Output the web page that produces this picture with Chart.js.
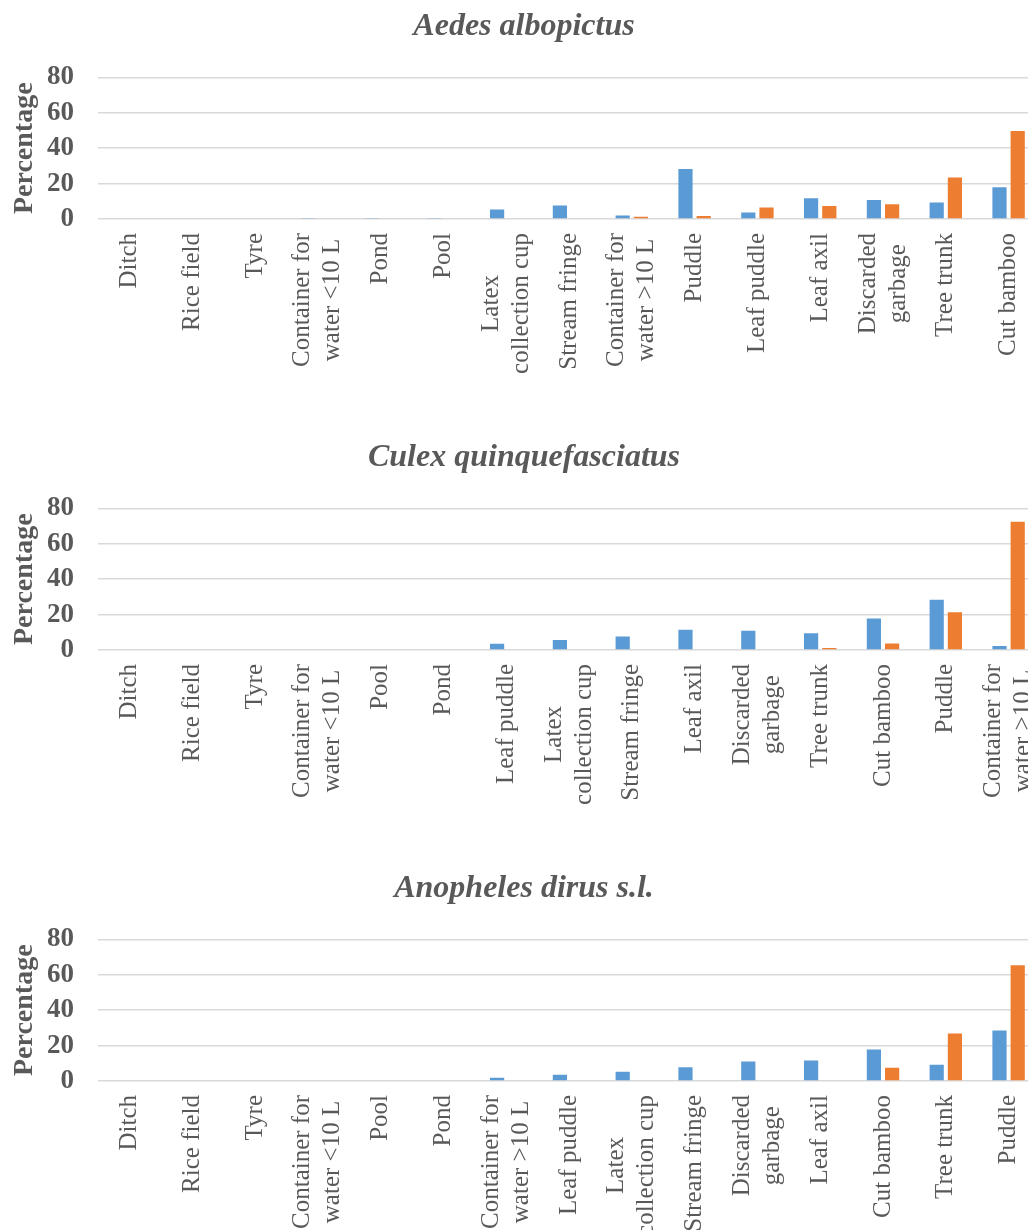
<!DOCTYPE html>
<html>
<head>
<meta charset="utf-8">
<script src="https://cdn.jsdelivr.net/npm/chart.js@4.4.0/dist/chart.umd.min.js"></script>
<style>
html, body { margin: 0; padding: 0; background: #fff; overflow: hidden; width: 1028px; height: 1230px; }
canvas { display: block; }
</style>
</head>
<body>
<canvas id="chartAedes" width="1040" height="431"></canvas>
<canvas id="chartCulex" width="1040" height="431"></canvas>
<canvas id="chartAnopheles" width="1040" height="368"></canvas>
<script>
// Data
const yTicks = [0, 20, 40, 60, 80];

const aedesLabels = ['Ditch', 'Rice field', 'Tyre', ['Container for', 'water <10 L'], 'Pond', 'Pool',
    ['Latex', 'collection cup'], 'Stream fringe', ['Container for', 'water >10 L'], 'Puddle',
    'Leaf puddle', 'Leaf axil', ['Discarded', 'garbage'], 'Tree trunk', 'Cut bamboo'];
const aedesBlue   = [0, 0, 0, 0.3, 0.3, 0.3, 5.3, 7.6, 2.0, 28.3, 3.7, 11.7, 10.8, 9.3, 17.9];
const aedesOrange = [0, 0, 0, 0, 0, 0, 0, 0, 1.3, 1.7, 6.5, 7.3, 8.4, 23.4, 49.7];

const culexLabels = ['Ditch', 'Rice field', 'Tyre', ['Container for', 'water <10 L'], 'Pool', 'Pond',
    'Leaf puddle', ['Latex', 'collection cup'], 'Stream fringe', 'Leaf axil', ['Discarded', 'garbage'],
    'Tree trunk', 'Cut bamboo', 'Puddle', ['Container for', 'water >10 L']];
const culexBlue   = [0, 0, 0, 0, 0, 0, 3.5, 5.6, 7.6, 11.5, 10.9, 9.5, 17.8, 28.4, 2.2];
const culexOrange = [0, 0, 0, 0, 0, 0, 0, 0, 0, 0, 0, 1.1, 3.7, 21.3, 72.5];

const anophelesLabels = ['Ditch', 'Rice field', 'Tyre', ['Container for', 'water <10 L'], 'Pool', 'Pond',
    ['Container for', 'water >10 L'], 'Leaf puddle', ['Latex', 'collection cup'], 'Stream fringe',
    ['Discarded', 'garbage'], 'Leaf axil', 'Cut bamboo', 'Tree trunk', 'Puddle'];
const anophelesBlue   = [0, 0, 0, 0, 0, 0, 1.9, 3.6, 5.2, 7.7, 11.0, 11.6, 17.8, 9.2, 28.6];
const anophelesOrange = [0, 0, 0, 0, 0, 0, 0, 0, 0, 0, 0, 0, 7.5, 26.9, 65.4];

const grey = '#595959';
const serif = "'Liberation Serif', 'Times New Roman', serif";

// Rotated category labels, lines centred on each other (Excel style)
const xLabelPlugin = {
    id: 'xLabels',
    afterDraw(chart) {
        const ctx = chart.ctx;
        const xs = chart.scales.x;
        const top = chart.chartArea.bottom + 14;
        const lineGap = 30;
        ctx.save();
        ctx.font = '25px ' + serif;
        ctx.fillStyle = grey;
        chart.data.labels.forEach((label, i) => {
            const lines = Array.isArray(label) ? label : [label];
            const maxW = Math.max(...lines.map(l => ctx.measureText(l).width));
            const x = xs.getPixelForTick(i);
            lines.forEach((line, j) => {
                const lx = x + (j - (lines.length - 1) / 2) * lineGap;
                ctx.save();
                ctx.translate(lx, top + maxW / 2);
                ctx.rotate(-Math.PI / 2);
                ctx.textAlign = 'center';
                ctx.textBaseline = 'middle';
                ctx.fillText(line, 0, 0);
                ctx.restore();
            });
        });
        ctx.restore();
    }
};

function makeChart(canvasId, title, labels, blue, orange, axisHeight) {
    new Chart(document.getElementById(canvasId), {
        type: 'bar',
        data: {
            labels: labels,
            datasets: [
                { label: 'Series 1', data: blue, backgroundColor: '#5B9BD5' },
                { label: 'Series 2', data: orange, backgroundColor: '#ED7D31' }
            ]
        },
        options: {
            responsive: false,
            animation: false,
            events: [],
            layout: { padding: { left: 8, right: 0, top: 8, bottom: 0 } },
            categoryPercentage: 0.58,
            barPercentage: 0.78,
            plugins: {
                legend: { display: false },
                tooltip: { enabled: false },
                title: {
                    display: true,
                    text: title,
                    color: grey,
                    font: { family: serif, size: 32, weight: 'bold', style: 'italic' },
                    padding: { top: 0, bottom: 31 }
                }
            },
            scales: {
                x: {
                    grid: { display: false },
                    border: { display: false },
                    ticks: { display: false },
                    afterFit: (scale) => { scale.height = axisHeight; }
                },
                y: {
                    min: 0, max: 80,
                    afterBuildTicks: (scale) => { scale.ticks = yTicks.map(v => ({ value: v })); },
                    grid: { color: '#d9d9d9', lineWidth: 1.5, drawTicks: false },
                    border: { display: false },
                    ticks: {
                        padding: 24, color: grey,
                        font: { family: serif, size: 27, weight: 'bold' }
                    },
                    title: {
                        display: true, text: 'Percentage', color: grey,
                        padding: { top: 0, bottom: 0 },
                        font: { family: serif, size: 28, weight: 'bold' }
                    },
                    afterFit: (scale) => { scale.width = 90; }
                }
            }
        },
        plugins: [xLabelPlugin]
    });
}

makeChart('chartAedes', 'Aedes albopictus', aedesLabels, aedesBlue, aedesOrange, 212);
makeChart('chartCulex', 'Culex quinquefasciatus', culexLabels, culexBlue, culexOrange, 212);
makeChart('chartAnopheles', 'Anopheles dirus s.l.', anophelesLabels, anophelesBlue, anophelesOrange, 149);
</script>
</body>
</html>
